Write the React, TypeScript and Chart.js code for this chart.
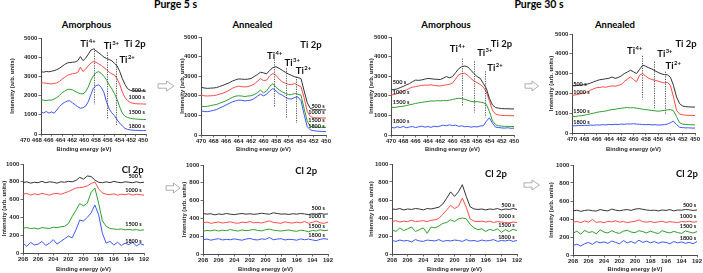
import React, { useEffect, useRef } from "react";
import { Chart, registerables } from "chart.js";
Chart.register(...registerables);

// ---------------- data ----------------
const tiEnergy = [470, 469.5, 469, 468.5, 468, 467.5, 467, 466.5, 466, 465.5, 465, 464.5, 464, 463.5, 463, 462.5, 462, 461.5, 461, 460.5, 460, 459.5, 459, 458.5, 458, 457.5, 457, 456.5, 456, 455.5, 455, 454.5, 454, 453.5, 453, 452.5, 452, 451.5, 451, 450.5, 450];
const clEnergy = [208, 207.5, 207, 206.5, 206, 205.5, 205, 204.5, 204, 203.5, 203, 202.5, 202, 201.5, 201, 200.5, 200, 199.5, 199, 198.5, 198, 197.5, 197, 196.5, 196, 195.5, 195, 194.5, 194, 193.5, 193, 192.5, 192];
const tiTicks = [470, 468, 466, 464, 462, 460, 458, 456, 454, 452, 450];
const clTicks = [208, 206, 204, 202, 200, 198, 196, 194, 192];
const tiYTicks = [0, 1000, 2000, 3000, 4000, 5000];
const clYTicks = [0, 200, 400, 600, 800, 1000];
const seriesNames = ["500 s", "1000 s", "1500 s", "1800 s"];

// Purge 5 s, amorphous, Ti 2p
const p5AmTi500 = [3250, 3220, 3260, 3240, 3270, 3300, 3350, 3420, 3520, 3620, 3700, 3720, 3740, 3750, 3820, 4030, 3820, 3950, 4150, 4370, 4430, 4330, 4230, 4120, 4000, 3930, 3880, 3810, 3680, 3550, 3250, 2880, 2580, 2360, 2270, 2250, 2240, 2240, 2250, 2240, 2230];
const p5AmTi1000 = [2680, 2660, 2640, 2620, 2610, 2630, 2660, 2740, 2850, 2950, 3050, 3100, 3140, 3160, 3200, 3480, 3250, 3380, 3550, 3700, 3770, 3730, 3650, 3570, 3450, 3350, 3220, 3130, 3070, 2880, 2580, 2180, 1900, 1740, 1640, 1600, 1580, 1570, 1570, 1560, 1560];
const p5AmTi1500 = [1780, 1760, 1740, 1770, 1760, 1820, 1900, 2000, 2150, 2230, 2320, 2330, 2300, 2220, 2150, 2100, 2090, 2200, 2450, 2800, 3050, 3200, 3250, 3150, 3000, 2800, 2550, 2350, 2100, 1800, 1400, 1080, 930, 860, 820, 790, 780, 770, 760, 760, 750];
const p5AmTi1800 = [1160, 1100, 1170, 1090, 1150, 1080, 1250, 1420, 1560, 1650, 1720, 1730, 1620, 1520, 1420, 1340, 1370, 1450, 1680, 2050, 2400, 2520, 2560, 2420, 2150, 1650, 1300, 1100, 950, 740, 560, 420, 290, 240, 210, 200, 190, 185, 180, 180, 175];

// Purge 5 s, annealed, Ti 2p
const p5AnTi500 = [2430, 2400, 2380, 2390, 2400, 2420, 2480, 2530, 2600, 2660, 2750, 2810, 2860, 2850, 2840, 2850, 2880, 2980, 3080, 3200, 3170, 3120, 3300, 3440, 3480, 3400, 3300, 3200, 3110, 3040, 2970, 2930, 2880, 2250, 1650, 1350, 1300, 1290, 1290, 1280, 1280];
const p5AnTi1000 = [2040, 2000, 1990, 2000, 2010, 2040, 2090, 2130, 2200, 2280, 2380, 2450, 2490, 2470, 2450, 2470, 2520, 2600, 2730, 2880, 2780, 2800, 3020, 3140, 3050, 2850, 2720, 2640, 2580, 2570, 2630, 2540, 2460, 1900, 1200, 940, 890, 880, 870, 870, 860];
const p5AnTi1500 = [1480, 1450, 1460, 1500, 1530, 1560, 1620, 1680, 1750, 1830, 1920, 1980, 2000, 1990, 1960, 1990, 2000, 2060, 2150, 2290, 2150, 2250, 2480, 2620, 2430, 2300, 2200, 2120, 2060, 2060, 2120, 2080, 2030, 1350, 700, 440, 410, 400, 395, 390, 390];
const p5AnTi1800 = [1230, 1200, 1190, 1220, 1260, 1300, 1380, 1450, 1530, 1610, 1690, 1740, 1780, 1770, 1740, 1760, 1780, 1860, 1970, 2080, 2000, 2080, 2250, 2370, 2250, 2110, 2030, 1930, 1850, 1840, 1920, 1940, 1750, 1050, 420, 260, 220, 200, 190, 180, 170];

// Purge 30 s, amorphous, Ti 2p
const p30AmTi500 = [2300, 2320, 2350, 2420, 2480, 2560, 2620, 2720, 2800, 2790, 2810, 2850, 2890, 2870, 2850, 2840, 2830, 2900, 2980, 2920, 2980, 3180, 3380, 3490, 3520, 3470, 3300, 3130, 2980, 2890, 2640, 2380, 1870, 1530, 1400, 1370, 1350, 1340, 1340, 1330, 1330];
const p30AmTi1000 = [2040, 2060, 2110, 2170, 2240, 2300, 2380, 2440, 2470, 2500, 2530, 2550, 2540, 2560, 2530, 2510, 2500, 2530, 2560, 2590, 2650, 2850, 3070, 3140, 3150, 3040, 2880, 2750, 2670, 2580, 2450, 2200, 1750, 1250, 1070, 1020, 1000, 990, 990, 985, 980];
const p30AmTi1500 = [1420, 1400, 1430, 1450, 1470, 1500, 1540, 1570, 1610, 1640, 1670, 1690, 1710, 1740, 1730, 1750, 1740, 1760, 1750, 1780, 1810, 1850, 1870, 1860, 1820, 1770, 1720, 1690, 1700, 1680, 1650, 1560, 1200, 720, 520, 470, 450, 440, 440, 435, 430];
const p30AmTi1800 = [400, 360, 420, 380, 440, 370, 410, 430, 380, 420, 450, 400, 430, 390, 450, 420, 460, 500, 470, 520, 480, 500, 440, 470, 420, 440, 400, 430, 410, 460, 470, 700, 880, 600, 400, 380, 360, 350, 370, 340, 350];

// Purge 30 s, annealed, Ti 2p
const p30AnTi500 = [2400, 2380, 2410, 2420, 2440, 2470, 2520, 2580, 2640, 2690, 2710, 2740, 2760, 2830, 2760, 2800, 2880, 3000, 3080, 3170, 3090, 3000, 3220, 3430, 3370, 3290, 3230, 3140, 3060, 2990, 2950, 2940, 2820, 2400, 1820, 1480, 1360, 1330, 1320, 1310, 1310];
const p30AnTi1000 = [1900, 1920, 1950, 1990, 2020, 2080, 2160, 2230, 2290, 2300, 2330, 2310, 2350, 2380, 2360, 2400, 2450, 2600, 2720, 2830, 2700, 2590, 2920, 3000, 2870, 2760, 2700, 2660, 2620, 2570, 2530, 2570, 2400, 1820, 1140, 960, 920, 900, 890, 890, 880];
const p30AnTi1500 = [840, 830, 860, 870, 900, 930, 970, 1000, 1040, 1070, 1090, 1110, 1150, 1180, 1200, 1230, 1250, 1270, 1290, 1270, 1280, 1250, 1230, 1200, 1180, 1160, 1140, 1120, 1100, 1120, 1140, 1170, 1180, 1130, 820, 520, 450, 430, 420, 415, 410];
const p30AnTi1800 = [370, 360, 380, 370, 390, 380, 400, 390, 410, 400, 420, 410, 430, 420, 440, 430, 450, 440, 460, 450, 470, 450, 440, 430, 420, 430, 410, 420, 400, 410, 420, 450, 520, 600, 420, 290, 270, 260, 260, 250, 250];

// Purge 5 s, amorphous, Cl 2p
const p5AmCl500 = [790, 800, 785, 795, 790, 805, 790, 800, 795, 785, 800, 795, 805, 800, 815, 850, 830, 865, 860, 820, 795, 790, 800, 790, 805, 795, 790, 800, 795, 790, 800, 790, 795];
const p5AmCl1000 = [660, 670, 650, 665, 655, 670, 660, 650, 665, 670, 660, 675, 690, 710, 730, 735, 740, 755, 780, 800, 720, 675, 660, 655, 665, 650, 660, 655, 665, 650, 660, 655, 650];
const p5AmCl1500 = [280, 285, 275, 280, 270, 285, 280, 275, 290, 285, 295, 300, 330, 410, 480, 555, 530, 560, 680, 730, 560, 360, 300, 275, 270, 265, 270, 260, 265, 258, 262, 255, 260];
const p5AmCl1800 = [110, 75, 120, 90, 100, 130, 85, 110, 150, 100, 130, 160, 190, 170, 260, 370, 360, 400, 450, 540, 430, 220, 110, 130, 90, 120, 85, 110, 95, 120, 80, 105, 90];

// Purge 5 s, annealed, Cl 2p
const p5AnCl500 = [455, 448, 452, 440, 450, 445, 455, 447, 442, 450, 455, 448, 452, 446, 450, 458, 452, 447, 463, 455, 448, 450, 445, 452, 448, 455, 450, 443, 452, 448, 455, 447, 450];
const p5AnCl1000 = [350, 358, 345, 352, 360, 348, 355, 362, 350, 345, 358, 352, 365, 350, 355, 348, 360, 372, 355, 350, 345, 362, 352, 348, 358, 350, 365, 345, 355, 370, 350, 345, 358];
const p5AnCl1500 = [255, 265, 260, 270, 258, 268, 262, 275, 265, 258, 270, 262, 268, 275, 265, 260, 272, 280, 268, 262, 258, 265, 270, 260, 255, 268, 262, 250, 265, 258, 272, 262, 268];
const p5AnCl1800 = [160, 168, 155, 165, 172, 158, 165, 160, 170, 162, 155, 168, 175, 162, 158, 170, 165, 185, 160, 168, 172, 158, 165, 162, 155, 170, 160, 168, 158, 150, 165, 172, 165];

// Purge 30 s, amorphous, Cl 2p
const p30AmCl500 = [500, 495, 505, 490, 500, 495, 505, 500, 490, 505, 500, 510, 520, 555, 620, 690, 640, 690, 770, 640, 525, 500, 495, 500, 490, 500, 495, 505, 490, 500, 495, 505, 495];
const p30AmCl1000 = [360, 370, 355, 365, 360, 375, 360, 365, 370, 360, 375, 380, 395, 440, 490, 540, 505, 530, 620, 520, 390, 365, 360, 365, 355, 365, 350, 360, 355, 350, 345, 355, 350];
const p30AmCl1500 = [270, 250, 290, 260, 280, 300, 250, 270, 290, 230, 300, 290, 310, 340, 350, 380, 360, 390, 400, 390, 330, 290, 270, 280, 250, 275, 260, 280, 240, 270, 250, 275, 260];
const p30AmCl1800 = [150, 140, 155, 145, 150, 135, 160, 145, 140, 155, 150, 145, 160, 140, 150, 145, 155, 150, 140, 160, 145, 150, 140, 155, 145, 150, 160, 140, 150, 145, 155, 140, 150];

// Purge 30 s, annealed, Cl 2p
const p30AnCl500 = [490, 498, 485, 495, 500, 492, 488, 505, 495, 490, 510, 498, 492, 500, 505, 495, 510, 515, 508, 500, 495, 498, 490, 500, 495, 505, 490, 500, 498, 505, 502, 495, 500];
const p30AnCl1000 = [365, 372, 360, 378, 365, 395, 362, 370, 358, 375, 368, 380, 365, 372, 360, 368, 375, 390, 370, 365, 372, 360, 368, 375, 362, 370, 365, 360, 372, 368, 375, 365, 370];
const p30AnCl1500 = [240, 265, 230, 275, 250, 260, 235, 280, 255, 245, 270, 250, 240, 265, 275, 255, 248, 270, 260, 245, 265, 250, 238, 270, 255, 245, 262, 250, 240, 268, 255, 245, 260];
const p30AnCl1800 = [105, 120, 100, 125, 140, 118, 150, 135, 145, 130, 155, 140, 125, 160, 135, 150, 130, 165, 140, 155, 135, 150, 130, 145, 140, 125, 150, 135, 145, 130, 140, 125, 150];

// ---------------- styling / layout ----------------
const COLORS = ["#333333", "#ff4a4a", "#2f9e2f", "#3f55ff"];
const AXIS_COLOR = "#4a4a4a";
const TEXT_COLOR = "#262626";
const TICK_FONT = { family: "'Liberation Sans', Arial, sans-serif", size: 6, weight: "bold" as const };
const TITLE_FONT = { family: "'Liberation Sans', Arial, sans-serif", size: 5.8, weight: "bold" as const };

type Txt = { x: number; y: number; text: string; sup?: string; size: number; align?: "left" | "center" | "right" };
type Annot = { lines: { x: number; y1: number; y2: number }[]; texts: Txt[] };

const tiLab = (x: number, y: number, sup: string): Txt => ({ x, y, text: "Ti", sup, size: 9.5 });
const sLab = (x: number, y: number, i: number, align: "left" | "right"): Txt => ({ x, y, text: seriesNames[i], size: 5.5, align });

const annotPlugin = {
  id: "annot",
  afterDatasetsDraw(chart: any, _args: any, opts: any) {
    const a: Annot = opts && opts.data;
    if (!a) return;
    const { ctx } = chart;
    const xs = chart.scales.x;
    const ys = chart.scales.y;
    ctx.save();
    ctx.strokeStyle = "#444";
    ctx.lineWidth = 0.9;
    ctx.setLineDash([1.2, 1.2]);
    for (const l of a.lines) {
      const px = Math.round(xs.getPixelForValue(l.x)) + 0.5;
      ctx.beginPath();
      ctx.moveTo(px, ys.getPixelForValue(l.y1));
      ctx.lineTo(px, ys.getPixelForValue(l.y2));
      ctx.stroke();
    }
    ctx.setLineDash([]);
    ctx.fillStyle = "#111";
    ctx.textBaseline = "alphabetic";
    ctx.textAlign = "left";
    for (const t of a.texts) {
      const px = xs.getPixelForValue(t.x);
      const py = ys.getPixelForValue(t.y);
      const mainFont = `bold ${t.size}px Lato, 'Open Sans', sans-serif`;
      const supSize = t.size * 0.62;
      const supFont = `bold ${supSize}px Lato, 'Open Sans', sans-serif`;
      ctx.font = mainFont;
      const w1 = ctx.measureText(t.text).width;
      let w2 = 0;
      if (t.sup) {
        ctx.font = supFont;
        w2 = ctx.measureText(t.sup).width + 0.4;
      }
      const total = w1 + w2;
      const align = t.align || "center";
      const x0 = align === "left" ? px : align === "right" ? px - total : px - total / 2;
      ctx.font = mainFont;
      ctx.fillText(t.text, x0, py);
      if (t.sup) {
        ctx.font = supFont;
        ctx.fillText(t.sup, x0 + w1 + 0.4, py - t.size * 0.42);
      }
    }
    ctx.restore();
  },
};

type Spec = {
  box: { l: number; t: number; w: number; h: number };
  yW: number;
  xH: number;
  padT: number;
  padR: number;
  padL?: number;
  xs: number[];
  series: number[][];
  xMin: number;
  xMax: number;
  xTicks: number[];
  yMax: number;
  yTicks: number[];
  showXLabels: boolean;
  showXTitle: boolean;
  showY?: boolean;
  showXAxisLine?: boolean;
  annot?: Annot;
};

function buildConfig(s: Spec): any {
  const showY = s.showY !== false;
  const showLine = s.showXAxisLine !== false;
  return {
    type: "line",
    data: {
      datasets: s.series.map((vals, i) => ({
        label: seriesNames[i],
        data: s.xs.map((x, j) => ({ x, y: vals[j] })),
        borderColor: COLORS[i],
        borderWidth: 1,
        pointRadius: 0,
        tension: 0,
        fill: false,
      })),
    },
    options: {
      responsive: false,
      animation: false,
      devicePixelRatio: 1,
      events: [],
      layout: { padding: { top: s.padT, right: s.padR, left: s.padL || 0, bottom: 0 } },
      plugins: { legend: { display: false }, tooltip: { enabled: false }, annot: { data: s.annot } },
      scales: {
        x: {
          type: "linear",
          min: s.xMin,
          max: s.xMax,
          reverse: true,
          afterBuildTicks: (sc: any) => {
            sc.ticks = s.xTicks.map((v) => ({ value: v }));
          },
          afterFit: (sc: any) => {
            sc.height = s.xH;
          },
          ticks: {
            display: s.showXLabels,
            autoSkip: false,
            maxRotation: 0,
            minRotation: 0,
            padding: 0.5,
            font: TICK_FONT,
            color: TEXT_COLOR,
            callback: (v: any) => String(v),
          },
          grid: { display: showLine, drawOnChartArea: false, drawTicks: true, tickLength: 2.5, color: AXIS_COLOR, lineWidth: 0.8 },
          border: { display: showLine, color: AXIS_COLOR, width: 1 },
          title: { display: s.showXTitle, text: "Binding energy (eV)", padding: 0, font: TITLE_FONT, color: TEXT_COLOR },
        },
        y: {
          display: showY,
          type: "linear",
          min: 0,
          max: s.yMax,
          afterBuildTicks: (sc: any) => {
            sc.ticks = s.yTicks.map((v) => ({ value: v }));
          },
          afterFit: (sc: any) => {
            sc.width = showY ? s.yW : 0;
          },
          ticks: { padding: 1.2, font: TICK_FONT, color: TEXT_COLOR, callback: (v: any) => String(v) },
          grid: { drawOnChartArea: false, drawTicks: true, tickLength: 2.5, color: AXIS_COLOR, lineWidth: 0.8 },
          border: { display: true, color: AXIS_COLOR, width: 1 },
          title: { display: true, text: "Intensity (arb. units)", padding: 0, font: TITLE_FONT, color: TEXT_COLOR },
        },
      },
    },
    plugins: [annotPlugin],
  };
}

const tiBase = { xs: tiEnergy, xMin: 450, xMax: 470, xTicks: tiTicks, yMax: 5000, yTicks: tiYTicks };
const clBase = { xs: clEnergy, xMin: 192, xMax: 208, xTicks: clTicks, yMax: 1000, yTicks: clYTicks };

const specs: Spec[] = [
  {
    ...tiBase,
    box: { l: 9, t: 32, w: 145, h: 108 }, yW: 32, xH: 6, padT: 6, padR: 8,
    series: [p5AmTi500, p5AmTi1000, p5AmTi1500, p5AmTi1800],
    showXLabels: false, showXTitle: false,
    annot: {
      lines: [{ x: 460, y1: 4450, y2: 1550 }, { x: 457.4, y1: 4250, y2: 760 }, { x: 455.8, y1: 3900, y2: 400 }],
      texts: [tiLab(461.05, 4530, "4+"), tiLab(456.6, 4430, "3+"), tiLab(453.6, 3700, "2+"), { x: 452.1, y: 4530, text: "Ti 2p", size: 9.5 },
        sLab(450.2, 2180, 0, "right"), sLab(450.2, 1830, 1, "right"), sLab(450.2, 1050, 2, "right"), sLab(450.2, 305, 3, "right")],
    },
  },
  {
    ...tiBase,
    box: { l: 17, t: 120, w: 134, h: 33 }, yW: 0, xH: 19, padT: 0, padR: 8, padL: 8,
    series: [],
    showXLabels: true, showXTitle: true, showY: false, showXAxisLine: false,
  },
  {
    ...tiBase,
    box: { l: 179, t: 31, w: 155, h: 122 }, yW: 22, xH: 18, padT: 6, padR: 8,
    series: [p5AnTi500, p5AnTi1000, p5AnTi1500, p5AnTi1800],
    showXLabels: true, showXTitle: true,
    annot: {
      lines: [{ x: 458.4, y1: 3850, y2: 1400 }, { x: 456.45, y1: 3400, y2: 850 }, { x: 454.8, y1: 2970, y2: 620 }],
      texts: [tiLab(458.2, 3880, "4+"), tiLab(455.4, 3540, "3+"), tiLab(453.6, 3120, "2+"), { x: 452.4, y: 4460, text: "Ti 2p", size: 9.5 },
        sLab(450.2, 1370, 0, "right"), sLab(450.2, 1050, 1, "right"), sLab(450.2, 670, 2, "right"), sLab(450.2, 370, 3, "right")],
    },
  },
  {
    ...tiBase,
    box: { l: 368, t: 31, w: 154, h: 122 }, yW: 23, xH: 18, padT: 6, padR: 8,
    series: [p30AmTi500, p30AmTi1000, p30AmTi1500, p30AmTi1800],
    showXLabels: true, showXTitle: true,
    annot: {
      lines: [{ x: 458.4, y1: 3900, y2: 1500 }, { x: 456.5, y1: 3750, y2: 1150 }, { x: 454.7, y1: 3250, y2: 900 }],
      texts: [tiLab(459.2, 4230, "4+"), tiLab(454.75, 4040, "3+"), tiLab(453.1, 3260, "2+"), { x: 452.05, y: 4480, text: "Ti 2p", size: 9.5 },
        sLab(469.7, 2600, 0, "left"), sLab(469.7, 2100, 1, "left"), sLab(469.7, 1560, 2, "left"), sLab(469.7, 630, 3, "left")],
    },
  },
  {
    ...tiBase,
    box: { l: 548, t: 28, w: 155, h: 125 }, yW: 24, xH: 20, padT: 6, padR: 8,
    series: [p30AnTi500, p30AnTi1000, p30AnTi1500, p30AnTi1800],
    showXLabels: true, showXTitle: true,
    annot: {
      lines: [{ x: 458.6, y1: 3900, y2: 1700 }, { x: 456.6, y1: 3600, y2: 1250 }, { x: 454.9, y1: 3100, y2: 950 }],
      texts: [tiLab(459.8, 4000, "4+"), tiLab(454.9, 3840, "3+"), tiLab(453.55, 3210, "2+"), { x: 451.45, y: 4350, text: "Ti 2p", size: 9.5 },
        sLab(469.8, 2360, 0, "left"), sLab(469.8, 1970, 1, "left"), sLab(469.8, 1020, 2, "left"), sLab(469.8, 450, 3, "left")],
    },
  },
  {
    ...clBase,
    box: { l: 1, t: 158, w: 151, h: 115 }, yW: 22, xH: 20, padT: 6, padR: 8,
    series: [p5AmCl500, p5AmCl1000, p5AmCl1500, p5AmCl1800],
    showXLabels: true, showXTitle: true,
    annot: {
      lines: [],
      texts: [{ x: 193.5, y: 899, text: "Cl 2p", size: 9.5 },
        sLab(192.3, 840, 0, "right"), sLab(192.3, 690, 1, "right"), sLab(192.3, 307, 2, "right"), sLab(192.3, 109, 3, "right")],
    },
  },
  {
    ...clBase,
    box: { l: 181, t: 159, w: 155, h: 114 }, yW: 22, xH: 19, padT: 6, padR: 8,
    series: [p5AnCl500, p5AnCl1000, p5AnCl1500, p5AnCl1800],
    showXLabels: true, showXTitle: true,
    annot: {
      lines: [],
      texts: [{ x: 194.8, y: 900, text: "Cl 2p", size: 9.5 },
        sLab(192.4, 494, 0, "right"), sLab(192.4, 400, 1, "right"), sLab(192.4, 296, 2, "right"), sLab(192.4, 195, 3, "right")],
    },
  },
  {
    ...clBase,
    box: { l: 368, t: 158, w: 157, h: 115 }, yW: 24, xH: 19, padT: 6, padR: 8,
    series: [p30AmCl500, p30AmCl1000, p30AmCl1500, p30AmCl1800],
    showXLabels: true, showXTitle: true,
    annot: {
      lines: [],
      texts: [{ x: 194.7, y: 860, text: "Cl 2p", size: 9.5 },
        sLab(192.3, 526, 0, "right"), sLab(192.3, 396, 1, "right"), sLab(192.3, 304, 2, "right"), sLab(192.3, 167, 3, "right")],
    },
  },
  {
    ...clBase,
    box: { l: 548, t: 159, w: 155, h: 114 }, yW: 25, xH: 18, padT: 6, padR: 6,
    series: [p30AnCl500, p30AnCl1000, p30AnCl1500, p30AnCl1800],
    showXLabels: true, showXTitle: true,
    annot: {
      lines: [],
      texts: [{ x: 193.3, y: 870, text: "Cl 2p", size: 9.5 },
        sLab(192.1, 537, 0, "right"), sLab(192.1, 408, 1, "right"), sLab(192.1, 303, 2, "right"), sLab(192.1, 167, 3, "right")],
    },
  },
];

function ChartCanvas({ spec }: { spec: Spec }) {
  const ref = useRef<HTMLCanvasElement>(null);
  useEffect(() => {
    const chart = new Chart(ref.current as HTMLCanvasElement, buildConfig(spec));
    return () => chart.destroy();
  }, [spec]);
  const { l, t, w, h } = spec.box;
  return (
    <canvas
      ref={ref}
      width={w}
      height={h}
      style={{ position: "absolute", left: l, top: t, width: w, height: h }}
    />
  );
}

const headings = [
  { text: "Purge 5 s", cx: 175.5, top: -1, size: 10.5 },
  { text: "Purge 30 s", cx: 539, top: -1, size: 10.5 },
  { text: "Amorphous", cx: 86.5, top: 20, size: 9.5 },
  { text: "Annealed", cx: 252.5, top: 20, size: 9.5 },
  { text: "Amorphous", cx: 446, top: 20, size: 9.5 },
  { text: "Annealed", cx: 615, top: 20, size: 9.5 },
];

const arrows = [
  "158,83.8 166.5,83.8 166.5,81 174,86 166.5,91 166.5,88.2 158,88.2",
  "525,83.8 532,83.8 532,81 538.5,86 532,91 532,88.2 525,88.2",
  "166,185.8 173.5,185.8 173.5,183 180,188 173.5,193 173.5,190.2 166,190.2",
  "524,182.8 532,182.8 532,180 539.5,185 532,190 532,187.2 524,187.2",
];

export default function App() {
  return (
    <div style={{ position: "absolute", left: 0, top: 0, width: 703, height: 273, background: "#fff", overflow: "hidden" }}>
      {headings.map((h, i) => (
        <div
          key={i}
          style={{
            position: "absolute",
            left: h.cx,
            top: h.top,
            transform: "translateX(-50%)",
            fontFamily: "Lato, 'Open Sans', sans-serif",
            fontWeight: 700,
            fontSize: h.size,
            lineHeight: `${h.size}px`,
            whiteSpace: "nowrap",
            color: "#000",
          }}
        >
          {h.text}
        </div>
      ))}
      <svg width={703} height={273} style={{ position: "absolute", left: 0, top: 0, pointerEvents: "none" }}>
        {arrows.map((p, i) => (
          <polygon key={i} points={p} fill="#fff" stroke="#9a9a9a" strokeWidth={0.8} />
        ))}
      </svg>
      {specs.map((s, i) => (
        <ChartCanvas key={i} spec={s} />
      ))}
    </div>
  );
}
